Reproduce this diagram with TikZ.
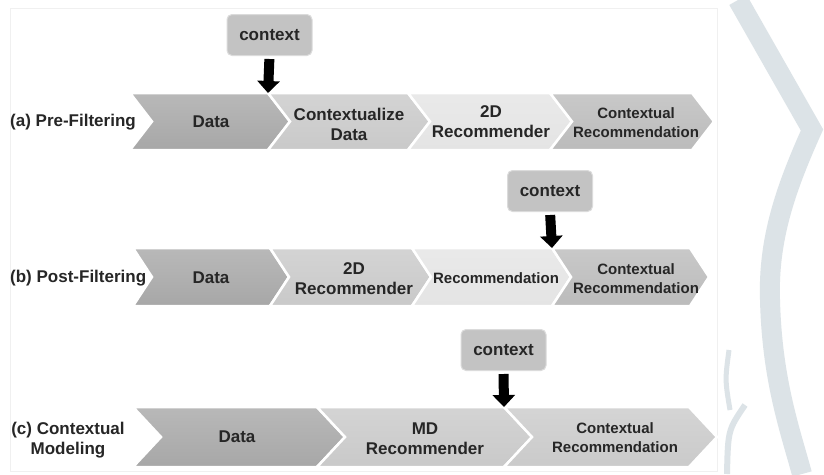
\documentclass[tikz,border=0pt]{standalone}
\usepackage{fontspec}
\setmainfont{Liberation Sans}
\usetikzlibrary{arrows.meta}
\definecolor{cdark}{HTML}{A7A7A7}
\definecolor{cmid}{HTML}{C9C9C9}
\definecolor{clight}{HTML}{E4E4E4}
\definecolor{cres}{HTML}{BBBBBB}
\definecolor{cresc}{HTML}{CACACA}
\definecolor{cctx}{HTML}{C3C3C3}
\definecolor{ink}{HTML}{262626}
\definecolor{wm}{HTML}{DCE3E7}
\newcommand\mychev[6]{%
  \path[draw=white,line width=2.5pt,top color=#6!80!white,bottom color=#6]
    (#1,#3) -- (#2,#3) -- ({#2+#5},{(#3+#4)/2}) -- (#2,#4) -- (#1,#4) -- ({#1+#5},{(#3+#4)/2}) -- cycle;}
\tikzset{
  txt/.style={font=\bfseries\fontsize{17}{20}\selectfont, text=ink, align=center, inner sep=0pt},
  txts/.style={font=\bfseries\fontsize{15}{19}\selectfont, text=ink, align=center, inner sep=0pt},
  ctxbox/.style={draw=cctx!60!white, line width=1pt, fill=cctx, rounded corners=5pt,
    minimum width=85pt, minimum height=41pt, font=\bfseries\fontsize{17}{20}\selectfont, text=ink, inner sep=0pt},
  bigarrow/.style={draw=black, line width=10pt, -{Triangle[width=22pt,length=12pt]}, shorten <=3pt},
}
\begin{document}
\begin{tikzpicture}[x=1pt,y=-1pt]
\useasboundingbox (0,0) rectangle (824,474);
\fill[white] (0,0) rectangle (824,474);
% watermark on the right
\draw[wm, line width=20pt, line join=miter] (738,0) -- (812,130) .. controls (785,190) and (768,240) .. (770,300) .. controls (772,380) and (790,430) .. (802,474);
\draw[wm, line width=5pt] (729,350) .. controls (725,380) .. (730,410);
\draw[wm, line width=6pt] (745,405) .. controls (728,430) .. (727,474);
% faint frame
\draw[gray!12, line width=0.8pt] (10,8) rectangle (717,471);

% ---------- row (a) ----------
\mychev{130}{268}{93}{150}{22}{cdark}
\mychev{268}{408}{93}{150}{22}{cmid}
\mychev{408}{550}{93}{150}{22}{clight}
\mychev{550}{692}{93}{150}{22}{cres}
\node[txt, anchor=west] (la) at (10,122) {(a) Pre-Filtering};
\node[txt] (a1) at (211,122) {Data};
\node[txt] (a2) at (349,124) {Contextualize\\Data};
\node[txt] (a3) at (491,122) {2D\\Recommender};
\node[txts] (a4) at (636,123) {Contextual\\Recommendation};
\node[ctxbox] (ca) at (269.5,35) {context};
\coordinate (ja) at (268,93);
\draw[bigarrow] (ca.south) -- (ja);

% ---------- row (b) ----------
\mychev{133}{270}{248}{306}{19}{cdark}
\mychev{270}{412}{248}{306}{19}{cmid}
\mychev{412}{552}{248}{306}{19}{clight}
\mychev{552}{690}{248}{306}{19}{cres}
\node[txt, anchor=west] (lb) at (10,278) {(b) Post-Filtering};
\node[txt] (b1) at (211,278) {Data};
\node[txt] (b2) at (354,279) {2D\\Recommender};
\node[txts] (b3) at (496,278) {Recommendation};
\node[txts] (b4) at (636,279) {Contextual\\Recommendation};
\node[ctxbox] (cb) at (550,191) {context};
\coordinate (jb) at (552,248);
\draw[bigarrow] (cb.south) -- (jb);

% ---------- row (c) ----------
\mychev{133}{317}{407}{467}{28}{cdark}
\mychev{317}{504}{407}{467}{28}{cmid}
\mychev{504}{689}{407}{467}{28}{cresc}
\node[txt] (lc) at (68,440) {(c) Contextual\\Modeling};
\node[txt] (c1) at (237,437) {Data};
\node[txt] (c2) at (425,439) {MD\\Recommender};
\node[txts] (c3) at (615,438) {Contextual\\Recommendation};
\node[ctxbox] (cc) at (503.5,350) {context};
\coordinate (jc) at (504,407);
\draw[bigarrow] (cc.south) -- (jc);
\end{tikzpicture}
\end{document}
